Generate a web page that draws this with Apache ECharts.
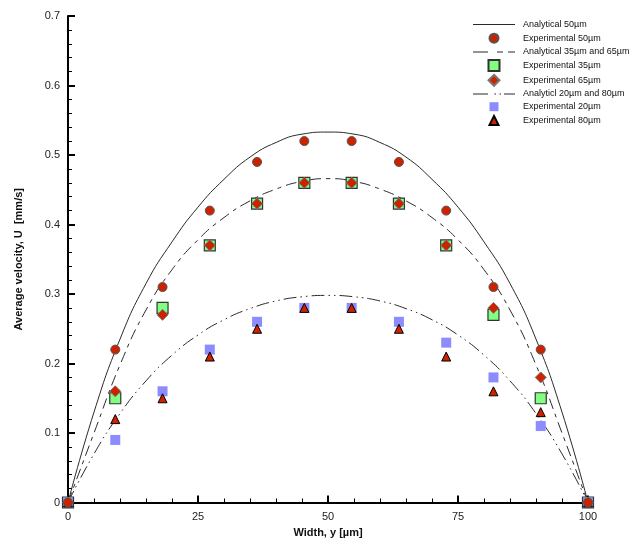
<!DOCTYPE html>
<html>
<head>
<meta charset="utf-8">
<script src="https://cdn.jsdelivr.net/npm/echarts@6/dist/echarts.min.js"></script>
<style>
html,body{margin:0;padding:0;background:#fff;}
#chart{width:637px;height:547px;}
</style>
</head>
<body>
<div id="chart"></div>
<script>
// Analytical curves
var curveX = [0, 5, 10, 15, 20, 25, 30, 35, 40, 45, 50, 55, 60, 65, 70, 75, 80, 85, 90, 95, 100];
var analytical50 = [0, 0.13, 0.235, 0.315, 0.375, 0.425, 0.465, 0.497, 0.518, 0.53, 0.533, 0.53, 0.518, 0.497, 0.465, 0.425, 0.375, 0.315, 0.235, 0.13, 0];
var analytical35_65 = [0, 0.1, 0.198, 0.277, 0.335, 0.378, 0.41, 0.434, 0.451, 0.462, 0.466, 0.462, 0.451, 0.434, 0.41, 0.378, 0.335, 0.277, 0.198, 0.1, 0];
var analytical20_80 = [0, 0.07, 0.128, 0.175, 0.212, 0.241, 0.263, 0.279, 0.29, 0.296, 0.298, 0.296, 0.29, 0.279, 0.263, 0.241, 0.212, 0.175, 0.128, 0.07, 0];

// Experimental points
var expX = [0, 9.09, 18.18, 27.27, 36.36, 45.45, 54.55, 63.64, 72.73, 81.82, 90.91, 100];
var exp50 = [0, 0.22, 0.31, 0.42, 0.49, 0.52, 0.52, 0.49, 0.42, 0.31, 0.22, 0];
var exp35 = [0, 0.15, 0.28, 0.37, 0.43, 0.46, 0.46, 0.43, 0.37, 0.27, 0.15, 0];
var exp65 = [0, 0.16, 0.27, 0.37, 0.43, 0.46, 0.46, 0.43, 0.37, 0.28, 0.18, 0];
var exp20 = [0, 0.09, 0.16, 0.22, 0.26, 0.28, 0.28, 0.26, 0.23, 0.18, 0.11, 0];
var exp80 = [0, 0.12, 0.15, 0.21, 0.25, 0.28, 0.28, 0.25, 0.21, 0.16, 0.13, 0];

var seriesNames = ['Analytical 50\u00b5m', 'Experimental 50\u00b5m', 'Analytical 35\u00b5m and 65\u00b5m', 'Experimental 35\u00b5m', 'Experimental 65\u00b5m', 'Analyticl 20\u00b5m and 80\u00b5m', 'Experimental 20\u00b5m', 'Experimental 80\u00b5m'];

// legend icons (line samples drawn as thin bars, markers kept square)
var legendIcons = [
  'path://M0,0H42V1H0Z',
  'path://M-1,-1M0,4.5A4.5,4.5,0,1,1,9,4.5A4.5,4.5,0,1,1,0,4.5ZM10,10',
  'path://M0,0H15V1H0ZM24,0H30V1H24ZM35,0H42V1H35Z',
  'path://M0,0H11V11H0Z',
  'path://M5.5,-0.5L11.5,5.5L5.5,11.5L-0.5,5.5Z',
  'path://M0,0H15V1H0ZM21.5,0H23V1H21.5ZM26.5,0H28V1H26.5ZM31,0H42V1H31Z',
  'path://M-1,-1M0,0H9V9H0ZM10,10',
  'path://M-1,-1M4.5,0L9,9H0ZM10,10'
];

function pairs(xs, ys) { return xs.map(function (x, i) { return [x, ys[i]]; }); }

var FONT = "'Liberation Sans', Arial, sans-serif";
var lineCol = '#2a2a2a';

var chart = echarts.init(document.getElementById('chart'), null, {renderer: 'canvas'});
chart.setOption({
  animation: false,
  backgroundColor: '#ffffff',
  grid: {left: 68, right: 49, top: 16, bottom: 44.5, containLabel: false},
  legend: {
    orient: 'vertical',
    left: 473,
    top: 19,
    padding: 0,
    itemWidth: 42,
    itemHeight: 11,
    itemGap: 1.7,
    textStyle: {fontFamily: FONT, fontSize: 9, color: '#111', lineHeight: 11, padding: [0, 0, 0, 3]},
    data: seriesNames.map(function (n, i) { return {name: n, icon: legendIcons[i]}; }),
    selectedMode: false
  },
  xAxis: {
    type: 'value', min: 0, max: 100, interval: 25,
    name: 'Width, y [\u00b5m]', nameLocation: 'middle', nameGap: 22,
    nameTextStyle: {fontFamily: FONT, fontSize: 11, fontWeight: 'bold', color: '#111'},
    axisLine: {show: true, onZero: false, lineStyle: {color: '#000', width: 2}},
    axisTick: {show: true, inside: true, length: 7, lineStyle: {color: '#000', width: 2}},
    minorTick: {show: true, splitNumber: 5, length: 4, lineStyle: {color: '#000', width: 1}},
    splitLine: {show: false},
    axisLabel: {fontFamily: FONT, fontSize: 11, color: '#222', margin: 9}
  },
  yAxis: {
    type: 'value', min: 0, max: 0.7, interval: 0.1,
    name: 'Average velocity, U  [mm/s]', nameLocation: 'middle', nameGap: 44,
    nameTextStyle: {fontFamily: FONT, fontSize: 11, fontWeight: 'bold', color: '#111'},
    axisLine: {show: true, onZero: false, lineStyle: {color: '#000', width: 2}},
    axisTick: {show: true, inside: true, length: 7, lineStyle: {color: '#000', width: 2}},
    minorTick: {show: true, splitNumber: 5, length: 4, lineStyle: {color: '#000', width: 1}},
    splitLine: {show: false},
    axisLabel: {fontFamily: FONT, fontSize: 11, color: '#222', margin: 8,
      formatter: function (v) { return v === 0 ? '0' : v.toFixed(1); }}
  },
  series: [
    {name: seriesNames[0], type: 'line', data: pairs(curveX, analytical50), symbol: 'none', smooth: 0.5,
      lineStyle: {color: lineCol, width: 1, type: 'solid'}, itemStyle: {color: lineCol}, z: 2},
    {name: seriesNames[2], type: 'line', data: pairs(curveX, analytical35_65), symbol: 'none', smooth: 0.5,
      lineStyle: {color: lineCol, width: 1, type: [11, 5, 4, 5]}, itemStyle: {color: lineCol}, z: 2},
    {name: seriesNames[5], type: 'line', data: pairs(curveX, analytical20_80), symbol: 'none', smooth: 0.5,
      lineStyle: {color: lineCol, width: 1, type: [13, 4, 1.5, 4, 1.5, 4]}, itemStyle: {color: lineCol}, z: 2},
    {name: seriesNames[3], type: 'scatter', data: pairs(expX, exp35), symbol: 'rect', symbolSize: 11, clip: false,
      itemStyle: {color: '#80ff80', borderColor: '#333', borderWidth: 1.2, opacity: 1}, z: 3},
    {name: seriesNames[4], type: 'scatter', data: pairs(expX, exp65), symbol: 'diamond', symbolSize: 11, clip: false,
      itemStyle: {color: '#cc2200', borderColor: '#777', borderWidth: 1, opacity: 1}, z: 4},
    {name: seriesNames[6], type: 'scatter', data: pairs(expX, exp20), symbol: 'rect', symbolSize: 10, clip: false,
      itemStyle: {color: '#8c8cff', opacity: 1}, z: 3},
    {name: seriesNames[7], type: 'scatter', data: pairs(expX, exp80), symbol: 'triangle', symbolSize: 9, clip: false,
      itemStyle: {color: '#cc2200', borderColor: '#000', borderWidth: 1, opacity: 1}, z: 4},
    {name: seriesNames[1], type: 'scatter', data: pairs(expX, exp50), symbol: 'circle', symbolSize: 9, clip: false,
      itemStyle: {color: '#cc2200', borderColor: '#555', borderWidth: 1, opacity: 1}, z: 4}
  ]
});
</script>
</body>
</html>
